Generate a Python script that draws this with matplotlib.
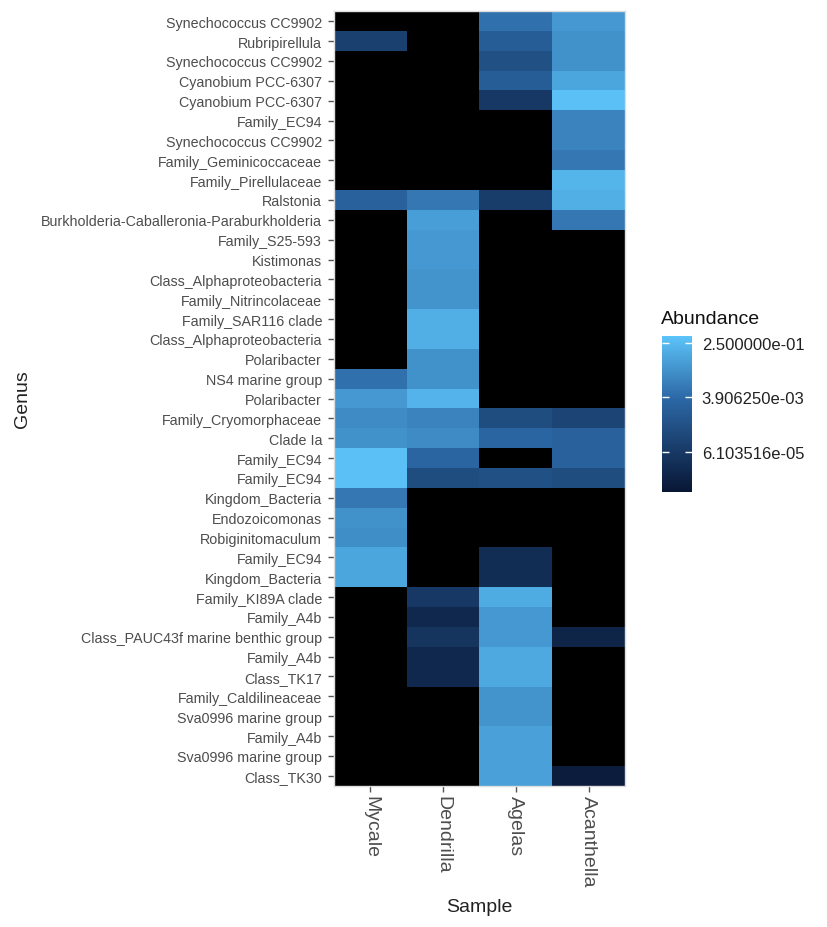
import numpy as np
import matplotlib
matplotlib.use("Agg")
import matplotlib.pyplot as plt
from matplotlib.colors import LogNorm, LinearSegmentedColormap
from matplotlib.transforms import ScaledTranslation

plt.rcParams['font.family'] = ['Liberation Sans', 'DejaVu Sans']

genus = [
    "Synechococcus CC9902", "Rubripirellula", "Synechococcus CC9902",
    "Cyanobium PCC-6307", "Cyanobium PCC-6307", "Family_EC94",
    "Synechococcus CC9902", "Family_Geminicoccaceae", "Family_Pirellulaceae",
    "Ralstonia", "Burkholderia-Caballeronia-Paraburkholderia", "Family_S25-593",
    "Kistimonas", "Class_Alphaproteobacteria", "Family_Nitrincolaceae",
    "Family_SAR116 clade", "Class_Alphaproteobacteria", "Polaribacter",
    "NS4 marine group", "Polaribacter", "Family_Cryomorphaceae",
    "Clade Ia", "Family_EC94", "Family_EC94", "Kingdom_Bacteria",
    "Endozoicomonas", "Robiginitomaculum", "Family_EC94", "Kingdom_Bacteria",
    "Family_KI89A clade", "Family_A4b", "Class_PAUC43f marine benthic group",
    "Family_A4b", "Class_TK17", "Family_Caldilineaceae", "Sva0996 marine group",
    "Family_A4b", "Sva0996 marine group", "Class_TK30",
]
samples = ["Mycale", "Dendrilla", "Agelas", "Acanthella"]

mycale = [0, 0.00012, 0, 0, 0, 0, 0, 0, 0, 0.002, 0, 0, 0, 0, 0, 0, 0, 0,
          0.0055, 0.044, 0.022, 0.031, 0.35, 0.35, 0.0078, 0.031, 0.027, 0.088, 0.088,
          0, 0, 0, 0, 0, 0, 0, 0, 0, 0]
dendrilla = [0, 0, 0, 0, 0, 0, 0, 0, 0, 0.0078, 0.0625, 0.044, 0.044, 0.036, 0.036,
             0.14, 0.14, 0.031, 0.031, 0.18, 0.0156, 0.022, 0.0028, 0.00035, 0, 0, 0, 0, 0,
             0.00006, 0.0000153, 0.000044, 0.0000153, 0.0000153, 0, 0, 0, 0, 0]
agelas = [0.0055, 0.0014, 0.0005, 0.0014, 0.00006, 0, 0, 0, 0, 0.00009, 0, 0, 0, 0, 0,
          0, 0, 0, 0, 0, 0.00035, 0.0028, 0, 0.0005, 0, 0, 0, 0.000022, 0.000022,
          0.125, 0.044, 0.044, 0.11, 0.11, 0.036, 0.036, 0.072, 0.072, 0.072]
acanthella = [0.044, 0.031, 0.031, 0.088, 0.35, 0.0156, 0.0156, 0.0078, 0.2, 0.14,
              0.0078, 0, 0, 0, 0, 0, 0, 0, 0, 0, 0.00017, 0.002, 0.002, 0.00035, 0, 0,
              0, 0, 0, 0, 0, 0.000011, 0, 0, 0, 0, 0, 0, 0.0000054]

legend_breaks = [2 ** -2, 2 ** -8, 2 ** -14]
vmin, vmax = 2 ** -18.4, 2 ** -1.24

data = np.array([mycale, dendrilla, agelas, acanthella]).T
masked = np.ma.masked_less_equal(data, 0)

cmap = LinearSegmentedColormap.from_list(
    "abund", [(0.0, "#081634"), (0.6, "#2C68A6"), (1.0, "#5CC4F9")])
cmap.set_bad("black")

fig = plt.figure(figsize=(8.27, 9.28), dpi=100)
ax = fig.add_axes([334 / 827, 1 - 786.7 / 928, (625 - 334) / 827, (786.7 - 12.3) / 928])
im = ax.imshow(masked, aspect='auto', cmap=cmap, norm=LogNorm(vmin=vmin, vmax=vmax),
               interpolation='nearest')

ax.set_yticks(range(len(genus)))
ax.set_yticklabels(genus, fontsize=10.3, color="#4d4d4d")
ax.set_xticks(range(len(samples)))
ax.set_xticklabels(samples, fontsize=14, color="#4d4d4d", rotation=270, va='top', ha='center')
shift = ScaledTranslation(-4 / 100, 0, fig.dpi_scale_trans)
for lbl in ax.get_xticklabels():
    lbl.set_transform(lbl.get_transform() + shift)
ax.tick_params(axis='y', length=4.5, width=1, color="#555555", pad=4)
ax.tick_params(axis='x', length=4, width=1, color="#555555", pad=3)
for s in ax.spines.values():
    s.set_color("#dddddd")
    s.set_linewidth(1)

ax.set_xlabel("Sample", fontsize=14, color="#222222", labelpad=8)
fig.text(23 / 827, 1 - 399 / 928, "Genus", rotation=90, fontsize=14, color="#222222",
         ha='center', va='center')

cax = fig.add_axes([662 / 827, 1 - 493 / 928, 30 / 827, 156 / 928])
cb = fig.colorbar(im, cax=cax, ticks=legend_breaks)
cb.outline.set_visible(False)
cb.ax.minorticks_off()
cb.ax.set_yticklabels(["%.6e" % v for v in legend_breaks], fontsize=12, color="#222222")
cb.ax.tick_params(direction='in', color='white', length=5, width=1, left=True, right=True, pad=7)
fig.text(661 / 827, 1 - 319 / 928, "Abundance", fontsize=14, color="#111111",
         ha='left', va='center')

fig.savefig("out.png", dpi=100)
